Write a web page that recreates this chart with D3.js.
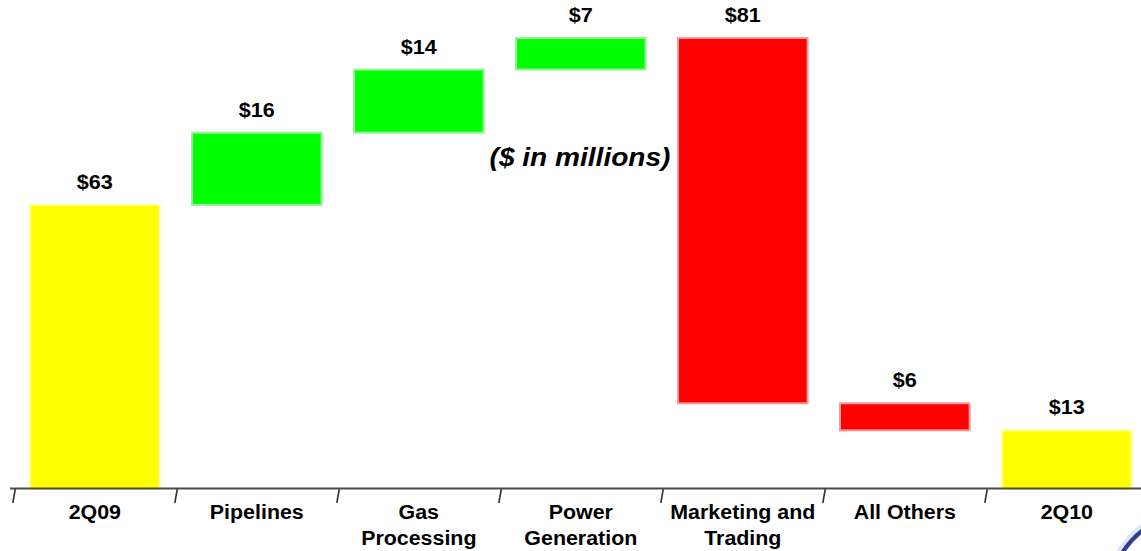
<!DOCTYPE html>
<html>
<head>
<meta charset="utf-8">
<script src="https://cdn.jsdelivr.net/npm/d3@7"></script>
<style>
  html, body { margin: 0; padding: 0; background: #ffffff; }
  svg { display: block; }
  text { font-family: "Liberation Sans", Arial, sans-serif; font-weight: bold; fill: #000; }
</style>
</head>
<body>
<svg id="chart" width="1141" height="551"></svg>
<script>
// Quarter-over-quarter earnings bridge, $ in millions
const categories = ["2Q09", "Pipelines", "Gas Processing", "Power Generation", "Marketing and Trading", "All Others", "2Q10"];
const categoryLines = [["2Q09"], ["Pipelines"], ["Gas", "Processing"], ["Power", "Generation"], ["Marketing and", "Trading"], ["All Others"], ["2Q10"]];
const changes = [63, 16, 14, 7, -81, -6, 13];
const kinds = ["total", "up", "up", "up", "down", "down", "total"];
const yTicks = [0, 100];

const width = 1141, height = 551;
const svg = d3.select("#chart");

const fills   = { total: "#ffff00", up: "#00ff00", down: "#ff0000" };
const strokes = { total: "#ffff9a", up: "#9af09a", down: "#f29a9a" };

// running totals for the floating bars
let running = 0;
const steps = categories.map((c, i) => {
  const v = changes[i];
  let start, end;
  if (kinds[i] === "total") { start = 0; end = v; running = v; }
  else { start = running; end = running + v; running = end; }
  return { cat: c, lines: categoryLines[i], value: v, kind: kinds[i], lo: Math.min(start, end), hi: Math.max(start, end) };
});

const x = d3.scaleBand()
  .domain(categories)
  .range([13.8, 1147.8])
  .paddingInner(0.2)
  .paddingOuter(0.1);

const y = d3.scaleLinear()
  .domain(d3.extent(yTicks))
  .range([489, 38]);

const half = x.step() * x.paddingInner() / 2;

// bars
svg.append("g").selectAll("rect")
  .data(steps)
  .join("rect")
  .attr("x", d => x(d.cat))
  .attr("y", d => y(d.hi))
  .attr("width", x.bandwidth())
  .attr("height", d => y(d.lo) - y(d.hi))
  .attr("fill", d => fills[d.kind])
  .attr("stroke", d => strokes[d.kind])
  .attr("stroke-width", 2);

// value labels
svg.append("g").selectAll("text")
  .data(steps)
  .join("text")
  .attr("text-anchor", "middle")
  .attr("font-size", 20)
  .attr("transform", d => `translate(${x(d.cat) + x.bandwidth() / 2},${y(d.hi) - 16}) scale(1.08,1)`)
  .text(d => "$" + Math.abs(d.value));

// category axis
const axis = svg.append("g");
axis.append("line")
  .attr("x1", 10).attr("x2", width)
  .attr("y1", 488.5).attr("y2", 488.5)
  .attr("stroke", "#4a4a4a")
  .attr("stroke-width", 2);

axis.selectAll("line.tick")
  .data(categories)
  .join("line")
  .attr("class", "tick")
  .attr("x1", d => x(d) - half + 1.5)
  .attr("x2", d => x(d) - half - 1)
  .attr("y1", 489)
  .attr("y2", 503)
  .attr("stroke", "#333")
  .attr("stroke-width", 1.6);

const catLabels = axis.selectAll("g.cat")
  .data(steps)
  .join("g")
  .attr("class", "cat")
  .attr("transform", d => `translate(${x(d.cat) + x.bandwidth() / 2},0)`);

catLabels.selectAll("text")
  .data(d => d.lines.map((t, i) => ({ t, i })))
  .join("text")
  .attr("text-anchor", "middle")
  .attr("font-size", 20)
  .attr("transform", d => `translate(0,${519 + d.i * 26}) scale(1.07,1)`)
  .text(d => d.t);

// units note
svg.append("text")
  .attr("text-anchor", "middle")
  .attr("font-size", 26)
  .attr("font-style", "italic")
  .attr("transform", "translate(580,166) scale(1.08,1)")
  .text("($ in millions)");

// corner logo fragment
svg.append("path")
  .attr("d", "M1120,553 Q1130,538 1143,528")
  .attr("fill", "none")
  .attr("stroke", "#c9d4f0")
  .attr("stroke-width", 9)
  .attr("opacity", 0.6);
svg.append("path")
  .attr("d", "M1122,553 Q1131,539 1143,530")
  .attr("fill", "none")
  .attr("stroke", "#2f3f8f")
  .attr("stroke-width", 4);
</script>
</body>
</html>
